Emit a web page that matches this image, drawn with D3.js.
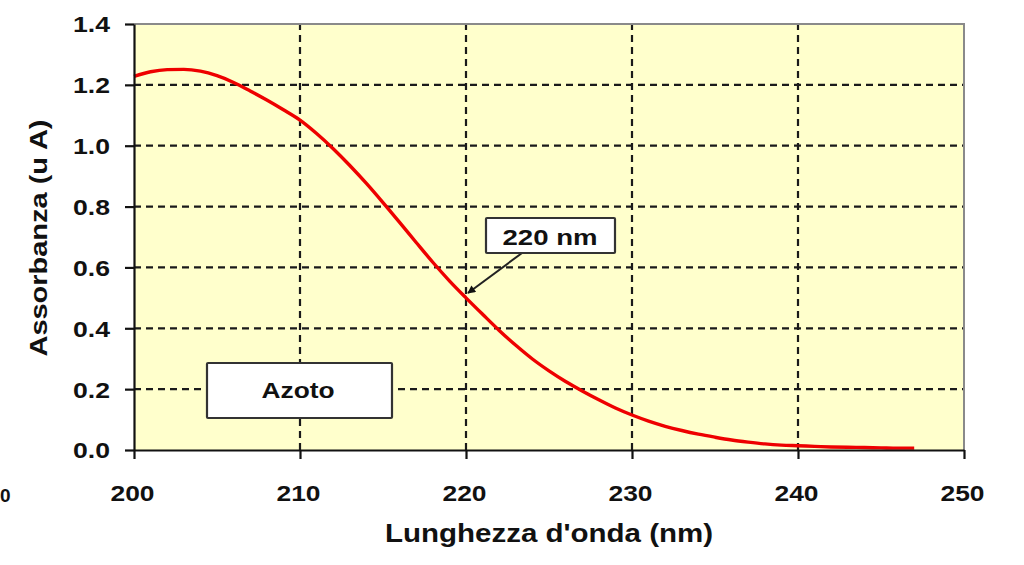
<!DOCTYPE html>
<html><head><meta charset="utf-8">
<script src="https://cdn.jsdelivr.net/npm/d3@7"></script>
<style>body{margin:0;background:#fff}svg{display:block}text{font-family:"Liberation Sans",Arial,sans-serif;font-weight:bold;fill:#111}</style>
</head><body>
<svg id="c" width="1024" height="565"></svg>
<script>
const wavelengths = [200,201,202,203,204,205,206,207,208,209,210,211,212,213,214,215,216,217,218,219,220,221,222,223,224,225,226,227,228,229,230,231,232,233,234,235,236,237,238,239,240,241,242,243,244,245,246,247];
const absorbance = [1.228,1.243,1.250,1.251,1.245,1.230,1.208,1.180,1.150,1.118,1.084,1.040,0.990,0.935,0.876,0.813,0.748,0.682,0.617,0.556,0.500,0.446,0.393,0.344,0.299,0.260,0.225,0.194,0.165,0.138,0.115,0.095,0.078,0.064,0.052,0.042,0.033,0.026,0.020,0.016,0.014,0.012,0.010,0.009,0.008,0.007,0.006,0.006];
const xTicks = [200,210,220,230,240,250];
const yTicks = [0.0,0.2,0.4,0.6,0.8,1.0,1.2,1.4];
const xTitle = "Lunghezza d'onda (nm)";
const yTitle = "Assorbanza (u A)";
const annotation = {label:"220 nm", x:220, y:0.516};
const seriesLabel = "Azoto";

const svg = d3.select("#c");
const L=134,R=964,T=24,B=450;
const x = d3.scaleLinear().domain([200,250]).range([L,R]);
const y = d3.scaleLinear().domain([0,1.4]).range([B,T]);

svg.append("rect").attr("x",L).attr("y",T).attr("width",R-L).attr("height",B-T).attr("fill","#ffffcc");

// grid
const g = svg.append("g").attr("stroke","#1a1a1a").attr("stroke-width",2.2).attr("stroke-dasharray","7,5");
g.selectAll("line.h").data(yTicks.filter(d=>d>0&&d<1.4)).join("line")
  .attr("x1",L).attr("x2",R).attr("y1",d=>y(d)).attr("y2",d=>y(d));
g.selectAll("line.v").data(xTicks.filter(d=>d>200&&d<250)).join("line").attr("class","v")
  .attr("y1",B).attr("y2",T).attr("x1",d=>x(d)).attr("x2",d=>x(d));

// border top/right
svg.append("path").attr("d",`M${L},${T}H${R}V${B}`).attr("fill","none").attr("stroke","#8a8a8a").attr("stroke-width",2);

// curve
svg.append("path").datum(wavelengths.map((w,i)=>[w,absorbance[i]]))
  .attr("d",d3.line().x(d=>x(d[0])).y(d=>y(d[1])).curve(d3.curveMonotoneX))
  .attr("fill","none").attr("stroke","#ee0000").attr("stroke-width",3.4);

// axes
const xa = svg.append("g").attr("transform",`translate(0,${B})`)
  .call(d3.axisBottom(x).tickValues(xTicks).tickSize(9).tickSizeOuter(0).tickFormat(d3.format("d")));
const ya = svg.append("g").attr("transform",`translate(${L},0)`)
  .call(d3.axisLeft(y).tickValues(yTicks).tickSize(9).tickSizeOuter(0).tickFormat(d3.format(".1f")));
[xa,ya].forEach(a=>{
  a.select(".domain").attr("stroke","#111").attr("stroke-width",2.2);
  a.selectAll(".tick line").attr("stroke","#111").attr("stroke-width",2.2);
  a.selectAll(".tick text").attr("font-size",22).attr("font-family","'Liberation Sans',Arial,sans-serif")
   .attr("font-weight","bold").attr("fill","#111").attr("lengthAdjust","spacingAndGlyphs");
});
xa.selectAll(".tick text").attr("y",51).attr("dy",0).attr("dx",-2).attr("textLength",44);
ya.selectAll(".tick text").attr("x",-24).attr("dy","0.36em").attr("textLength",37);

// axis titles
svg.append("text").attr("x",549).attr("y",542).attr("text-anchor","middle").attr("font-size",25)
  .attr("textLength",328).attr("lengthAdjust","spacingAndGlyphs").text(xTitle);
svg.append("text").attr("transform","translate(47,238) rotate(-90)").attr("text-anchor","middle").attr("font-size",24)
  .attr("textLength",237).attr("lengthAdjust","spacingAndGlyphs").text(yTitle);

// stray label at left edge
svg.append("text").attr("x",0).attr("y",502).attr("font-size",19).text("0");

// annotation box with arrow
const defs = svg.append("defs");
defs.append("marker").attr("id","ah").attr("viewBox","0 0 10 10").attr("refX",9).attr("refY",5)
  .attr("markerWidth",5).attr("markerHeight",4).attr("orient","auto")
  .append("path").attr("d","M0,0L10,5L0,10Z").attr("fill","#111");
svg.append("line").attr("x1",522).attr("y1",253).attr("x2",x(annotation.x)+2).attr("y2",y(annotation.y))
  .attr("stroke","#222").attr("stroke-width",2).attr("marker-end","url(#ah)");
svg.append("rect").attr("x",486).attr("y",218).attr("width",129).attr("height",35)
  .attr("fill","#fff").attr("stroke","#333").attr("stroke-width",2.2).attr("rx",1);
svg.append("text").attr("x",550).attr("y",245).attr("text-anchor","middle").attr("font-size",22)
  .attr("textLength",95).attr("lengthAdjust","spacingAndGlyphs").text(annotation.label);

svg.append("rect").attr("x",207).attr("y",363).attr("width",185).attr("height",55)
  .attr("fill","#fff").attr("stroke","#333").attr("stroke-width",2.2).attr("rx",1);
svg.append("text").attr("x",298).attr("y",398).attr("text-anchor","middle").attr("font-size",22)
  .attr("textLength",73).attr("lengthAdjust","spacingAndGlyphs").text(seriesLabel);
</script>
</body></html>
